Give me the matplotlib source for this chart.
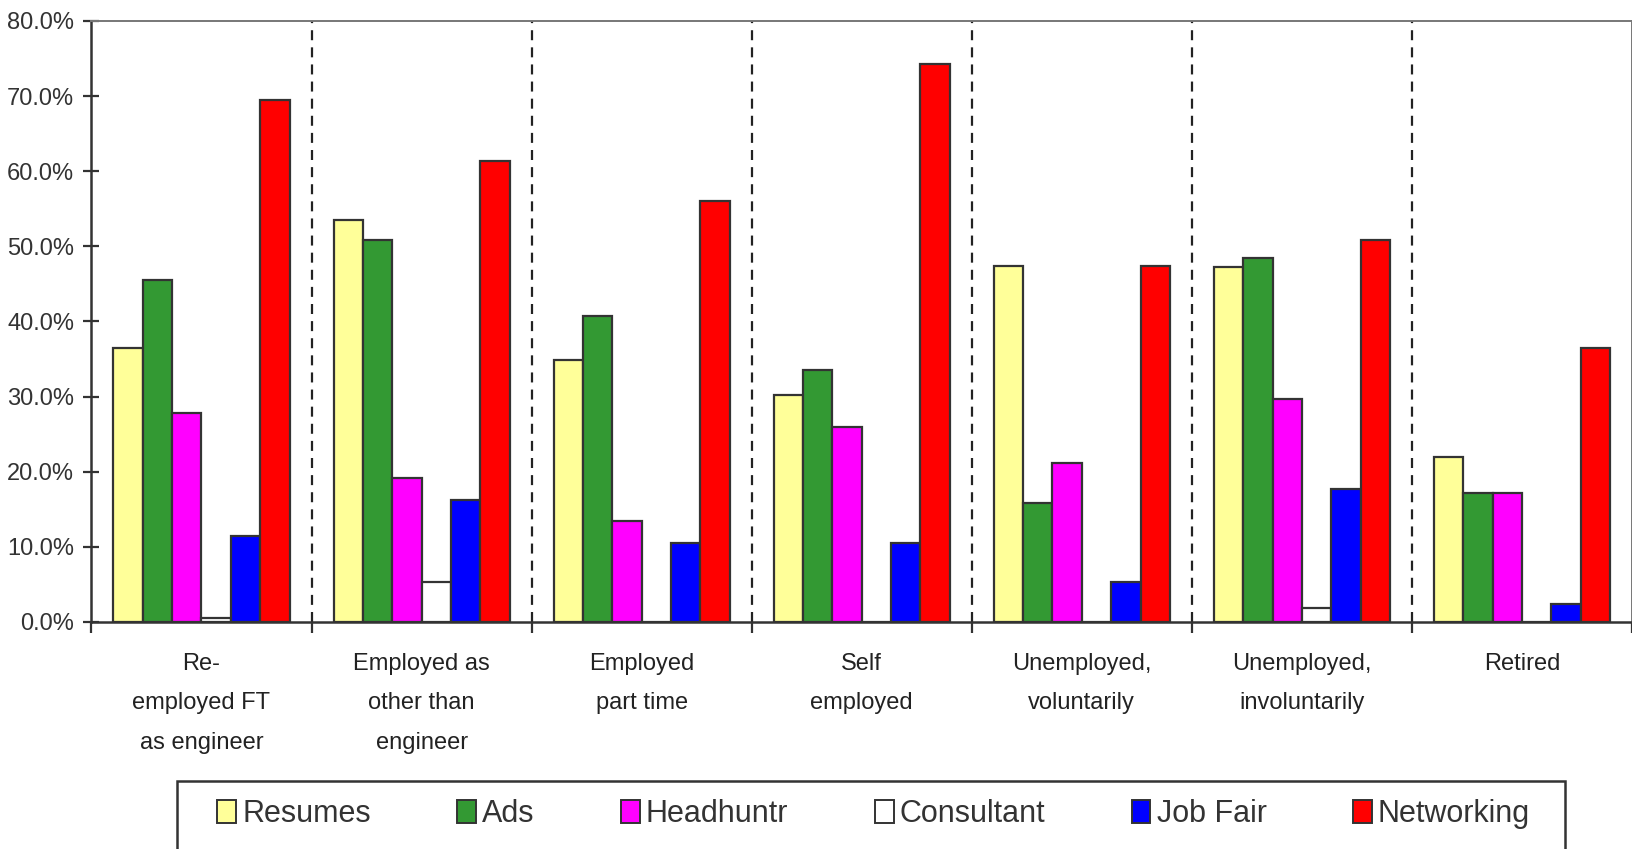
import matplotlib
matplotlib.use("Agg")
import matplotlib.pyplot as plt
import numpy as np
from matplotlib.patches import Patch, Rectangle
from matplotlib.ticker import PercentFormatter

plt.rcParams["font.family"] = ["Liberation Sans", "DejaVu Sans"]

# Job search method by employment outcome (share of respondents, %)
categories = [
    "Re-\nemployed FT\nas engineer",
    "Employed as\nother than\nengineer",
    "Employed\npart time",
    "Self\nemployed",
    "Unemployed,\nvoluntarily",
    "Unemployed,\ninvoluntarily",
    "Retired",
]
methods = ["Resumes", "Ads", "Headhuntr", "Consultant", "Job Fair", "Networking"]

resumes = [36.4, 53.5, 34.9, 30.2, 47.4, 47.3, 22.0]
ads = [45.5, 50.8, 40.7, 33.5, 15.8, 48.4, 17.2]
headhuntr = [27.8, 19.1, 13.4, 25.9, 21.1, 29.7, 17.2]
consultant = [0.5, 5.3, 0.0, 0.0, 0.0, 1.8, 0.0]
job_fair = [11.5, 16.3, 10.5, 10.5, 5.3, 17.7, 2.4]
networking = [69.5, 61.3, 56.0, 74.3, 47.4, 50.8, 36.4]

series = [resumes, ads, headhuntr, consultant, job_fair, networking]
colors = ["#FFFF99", "#339933", "#FF00FF", "#FFFFFF", "#0000FF", "#FF0000"]
edge = "#333333"

W, H = 1633, 849
fig = plt.figure(figsize=(W / 100, H / 100), dpi=100)
ax = fig.add_axes([0.056, 0.2674, 0.9434, 0.708])

x = np.arange(len(categories))
n = len(series)
width = 0.8 / n
for i, (vals, col) in enumerate(zip(series, colors)):
    offs = (i - (n - 1) / 2) * width
    ax.bar(x + offs, vals, width, color=col, edgecolor=edge, linewidth=1.6, zorder=3)

ax.set_xlim(-0.5, len(categories) - 0.5)
ax.set_ylim(0, 80)
ax.set_yticks(np.arange(0, 81, 10))
ax.yaxis.set_major_formatter(PercentFormatter(decimals=1))

# dashed separators between groups
for b in np.arange(0.5, len(categories) - 0.5, 1):
    ax.axvline(b, color="#222222", linestyle=(0, (4.5, 3.2)), linewidth=1.6, zorder=1)

ax.set_xticks(np.arange(-0.5, len(categories), 1))
ax.set_xticklabels([])
ax.set_xticks(x, minor=True)
ax.set_xticklabels(categories, minor=True, fontsize=17, color="#222222", linespacing=2.05)
ax.tick_params(axis="x", which="major", direction="out", length=8, width=1.6, color="#333333")
ax.tick_params(axis="x", which="minor", length=0, pad=22)
ax.tick_params(axis="y", direction="inout", length=11, width=1.6, color="#333333",
               labelsize=17, labelcolor="#333333", pad=7)

for side in ["left", "bottom"]:
    ax.spines[side].set_color("#333333")
    ax.spines[side].set_linewidth(1.8)
for side in ["top", "right"]:
    ax.spines[side].set_color("#777777")
    ax.spines[side].set_linewidth(1.4)

# legend box runs off the bottom edge
fig.patches.append(Rectangle((177 / W, -0.02), (1565 - 177) / W, 0.02 + 1 - 781 / H,
                             transform=fig.transFigure, facecolor="white",
                             edgecolor="#333333", linewidth=1.8))
handles = [Patch(facecolor=c, edgecolor=edge, linewidth=1.4) for c in colors]
leg = fig.legend(handles, methods, ncol=6, loc="upper left",
                 bbox_to_anchor=(217 / W, 1 - 799 / H - 0.1, (1530 - 217) / W, 0.1),
                 mode="expand", fontsize=22, frameon=False,
                 handlelength=0.62, handleheight=0.75,
                 handletextpad=0.2, borderaxespad=0, borderpad=0,
                 columnspacing=1.0)
for t in leg.get_texts():
    t.set_color("#333333")

fig.savefig("out.png", dpi=100, facecolor="white")
